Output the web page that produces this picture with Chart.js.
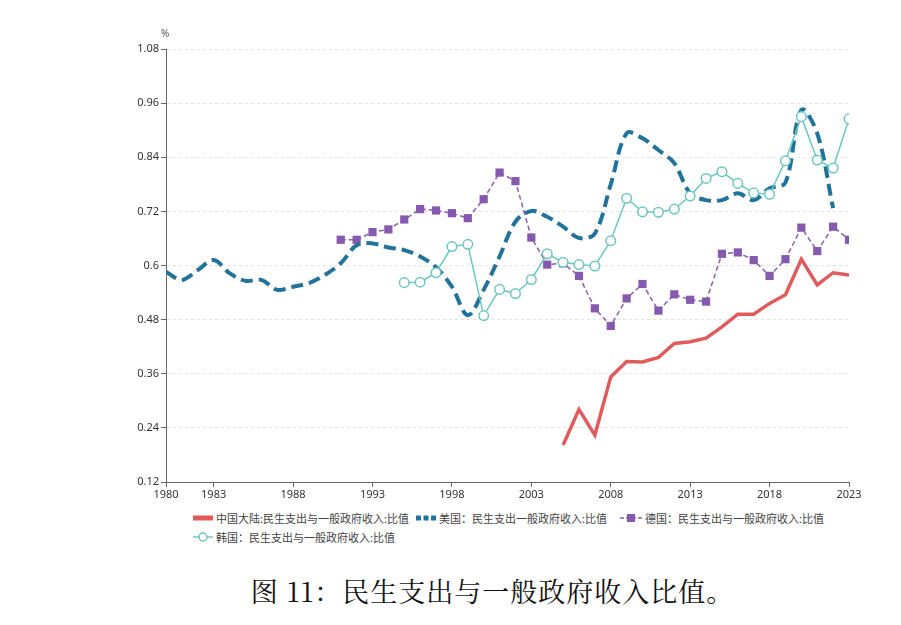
<!DOCTYPE html>
<html><head><meta charset="utf-8">
<script src="https://cdn.jsdelivr.net/npm/chart.js@4"></script>
<style>
html,body{margin:0;padding:0;background:#fff;}
#wrap{position:relative;width:901px;height:625px;overflow:hidden;}
#c{position:absolute;left:0;top:0;}
.lg{position:absolute;font-family:"Noto Sans CJK SC","Noto Sans",sans-serif;font-size:11px;color:#444;white-space:nowrap;line-height:14px;display:flex;align-items:center;}
.lg svg{margin-right:3px;}
#unit{position:absolute;left:161px;top:26px;font-family:"Noto Sans","DejaVu Sans",sans-serif;font-size:10px;color:#555;}
#cap{position:absolute;left:0;width:985px;top:571px;text-align:center;font-family:"Noto Serif CJK SC","Noto Sans CJK SC",serif;font-size:27px;color:#111;letter-spacing:1px;}
</style></head>
<body><div id="wrap">
<canvas id="c" width="901" height="500"></canvas>
<div id="unit">%</div>
<div class="lg" style="left:193px;top:511px;"><svg width="20" height="8"><rect x="0" y="1.5" width="20" height="5" fill="#e05c5c"/></svg>中国大陆:民生支出与一般政府收入:比值</div>
<div class="lg" style="left:416px;top:511px;"><svg width="20" height="8"><rect x="0" y="1.5" width="5" height="5" fill="#22739b"/><rect x="7.5" y="1.5" width="5" height="5" fill="#22739b"/><rect x="15" y="1.5" width="5" height="5" fill="#22739b"/></svg>美国：民生支出一般政府收入:比值</div>
<div class="lg" style="left:620px;top:511px;"><svg width="22" height="10"><line x1="0" y1="5" x2="22" y2="5" stroke="#8a5db2" stroke-width="1.5" stroke-dasharray="4,2"/><rect x="7" y="1" width="8" height="8" fill="#8459ae"/></svg>德国：民生支出与一般政府收入:比值</div>
<div class="lg" style="left:193px;top:530px;"><svg width="20" height="10"><line x1="0" y1="5" x2="20" y2="5" stroke="#6cc7c0" stroke-width="1.5"/><circle cx="10" cy="5" r="4" fill="#fff" stroke="#6cc7c0" stroke-width="1.5"/></svg>韩国：民生支出与一般政府收入:比值</div>
<div id="cap">图 11：民生支出与一般政府收入比值。</div>
</div>
<script>
const xTicks = [1980, 1983, 1988, 1993, 1998, 2003, 2008, 2013, 2018, 2023];
const yTicks = [0.12, 0.24, 0.36, 0.48, 0.6, 0.72, 0.84, 0.96, 1.08];

const chinaYears = [2005,2006,2007,2008,2009,2010,2011,2012,2013,2014,2015,2016,2017,2018,2019,2020,2021,2022,2023];
const chinaVals  = [0.202,0.281,0.224,0.353,0.387,0.386,0.396,0.427,0.431,0.439,0.464,0.492,0.492,0.516,0.535,0.614,0.557,0.584,0.579];

const usaYears = [1980,1981,1982,1983,1984,1985,1986,1987,1988,1989,1990,1991,1992,1993,1994,1995,1996,1997,1998,1999,2000,2001,2002,2003,2004,2005,2006,2007,2008,2009,2010,2011,2012,2013,2014,2015,2016,2017,2018,2019,2020,2021,2022];
const usaVals  = [0.586,0.568,0.590,0.612,0.583,0.566,0.568,0.546,0.553,0.561,0.579,0.605,0.645,0.649,0.640,0.634,0.620,0.596,0.553,0.490,0.546,0.620,0.697,0.721,0.708,0.686,0.661,0.671,0.780,0.893,0.882,0.856,0.827,0.760,0.745,0.745,0.760,0.745,0.771,0.784,0.945,0.893,0.727];

const deYears = [1991,1992,1993,1994,1995,1996,1997,1998,1999,2000,2001,2002,2003,2004,2005,2006,2007,2008,2009,2010,2011,2012,2013,2014,2015,2016,2017,2018,2019,2020,2021,2022,2023];
const deVals  = [0.657,0.657,0.674,0.680,0.702,0.725,0.722,0.716,0.705,0.747,0.806,0.787,0.662,0.602,0.605,0.577,0.505,0.466,0.527,0.559,0.500,0.536,0.524,0.520,0.626,0.629,0.612,0.577,0.614,0.684,0.632,0.686,0.657];

const krYears = [1995,1996,1997,1998,1999,2000,2001,2002,2003,2004,2005,2006,2007,2008,2009,2010,2011,2012,2013,2014,2015,2016,2017,2018,2019,2020,2021,2022,2023];
const krVals  = [0.562,0.563,0.584,0.642,0.647,0.489,0.547,0.538,0.569,0.626,0.607,0.602,0.599,0.655,0.749,0.719,0.718,0.725,0.754,0.793,0.808,0.782,0.761,0.758,0.832,0.930,0.834,0.816,0.925];

const pts = (ys, vs) => ys.map((y, i) => ({x: y, y: vs[i]}));

new Chart(document.getElementById('c'), {
  type: 'line',
  data: {
    datasets: [
      {label:'中国大陆:民生支出与一般政府收入:比值', data: pts(chinaYears, chinaVals), borderColor:'#e05c5c', borderWidth:3.5, pointRadius:0, tension:0, order:1},
      {label:'美国：民生支出一般政府收入:比值', data: pts(usaYears, usaVals), borderColor:'#22739b', borderWidth:4, borderDash:[12,6], pointRadius:0, tension:0.35, order:2},
      {label:'德国：民生支出与一般政府收入:比值', data: pts(deYears, deVals), borderColor:'#8a5db2', borderWidth:1.5, borderDash:[5,3], pointStyle:'rect', pointRadius:5.8, pointBackgroundColor:'#8459ae', pointBorderColor:'#8459ae', pointBorderWidth:0, tension:0, order:3},
      {label:'韩国：民生支出与一般政府收入:比值', data: pts(krYears, krVals), borderColor:'#6cc7c0', borderWidth:1.5, pointStyle:'circle', pointRadius:4.8, pointBackgroundColor:'#fff', pointBorderColor:'#6cc7c0', pointBorderWidth:1.5, tension:0, order:0}
    ]
  },
  options: {
    responsive:false, animation:false,
    layout:{padding:{left:116, right:52, top:49, bottom:0}},
    plugins:{legend:{display:false}, tooltip:{enabled:false}},
    scales:{
      x:{type:'linear', min:1980, max:2023,
        afterBuildTicks:(s)=>{s.ticks = xTicks.map(v=>({value:v}));},
        afterFit:(s)=>{s.height = 18;},
        grid:{drawOnChartArea:false, drawTicks:true, tickLength:5, tickColor:'#666'},
        border:{color:'#666', width:1},
        ticks:{autoSkip:false, maxRotation:0, padding:1, color:'#333', font:{family:'"Noto Sans","Open Sans",sans-serif', size:11}, callback:(v)=>String(v)}
      },
      y:{type:'linear', min:0.12, max:1.08,
        afterBuildTicks:(s)=>{s.ticks = yTicks.map(v=>({value:v}));},
        afterFit:(s)=>{s.width = 50;},
        grid:{color:'#e2e2e2', drawTicks:true, tickLength:5, tickColor:'#666', tickBorderDash:[]},
        border:{color:'#666', width:1, dash:[3,3]},
        ticks:{padding:2, color:'#333', font:{family:'"Noto Sans","Open Sans",sans-serif', size:11}, callback:(v)=>String(Number(v.toFixed(2)))}
      }
    }
  }
});
</script>
</body></html>
